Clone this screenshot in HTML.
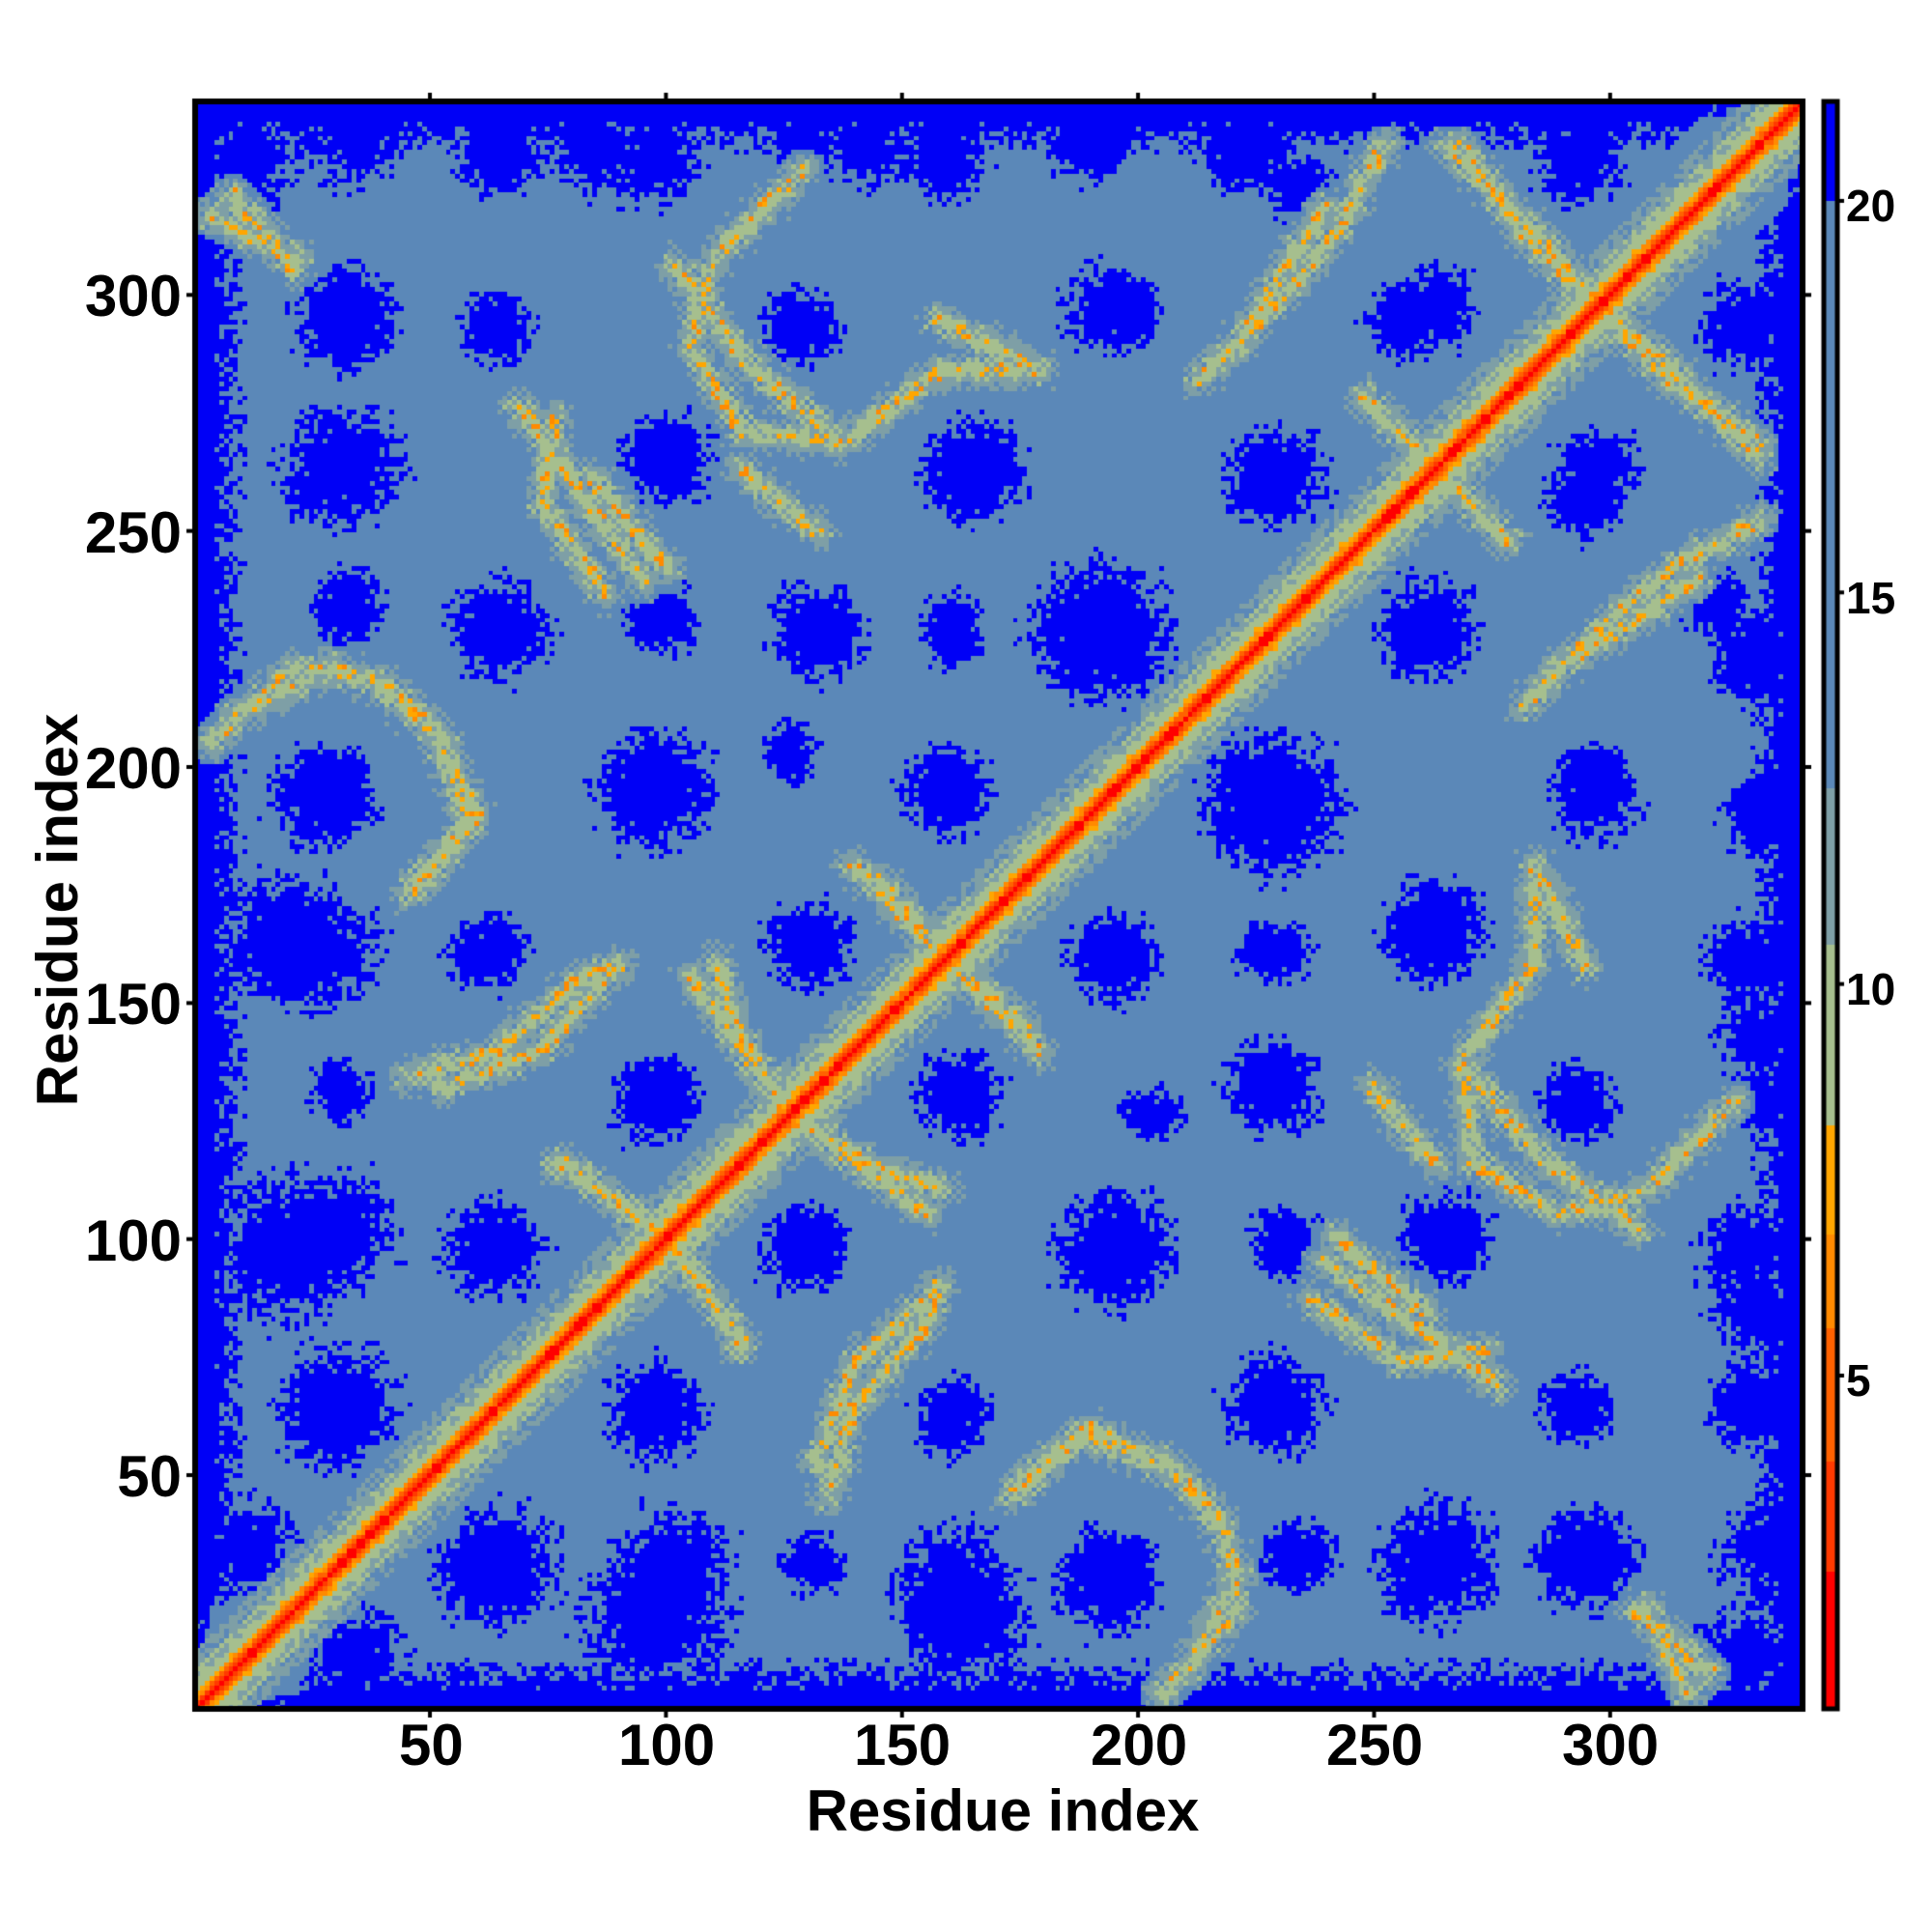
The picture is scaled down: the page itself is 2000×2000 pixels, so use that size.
<!DOCTYPE html>
<html><head><meta charset="utf-8">
<style>
html,body{margin:0;padding:0;background:#fff;}
#wrap{position:relative;width:2000px;height:2000px;overflow:hidden;font-family:"Liberation Sans",Arial,sans-serif;font-weight:bold;color:#000;}
canvas{position:absolute;left:0;top:0;}
.t{position:absolute;font-size:60px;line-height:1;white-space:nowrap;}
.c{position:absolute;font-size:46px;line-height:1;white-space:nowrap;}
</style></head><body>
<div id="wrap">
<canvas id="cv" width="2000" height="2000"></canvas>
<div class="t" style="left:413px;top:1777px;">50</div>
<div class="t" style="left:640px;top:1777px;">100</div>
<div class="t" style="left:884px;top:1777px;">150</div>
<div class="t" style="left:1129px;top:1777px;">200</div>
<div class="t" style="left:1373px;top:1777px;">250</div>
<div class="t" style="left:1617px;top:1777px;">300</div>
<div class="t" style="left:0;width:2000px;text-align:center;top:1845px;font-size:60px;"><span style="position:relative;left:38px;">Residue index</span></div>
<div class="t" style="right:1812px;top:1499px;">50</div>
<div class="t" style="right:1812px;top:1255px;">100</div>
<div class="t" style="right:1812px;top:1010px;">150</div>
<div class="t" style="right:1812px;top:766px;">200</div>
<div class="t" style="right:1812px;top:522px;">250</div>
<div class="t" style="right:1812px;top:277px;">300</div>
<div class="t" style="left:60px;top:942px;font-size:60px;transform:translate(-50%,-50%) rotate(-90deg);">Residue index</div>
<div class="c" style="left:1911px;top:190px;">20</div>
<div class="c" style="left:1911px;top:596px;">15</div>
<div class="c" style="left:1911px;top:1001px;">10</div>
<div class="c" style="left:1911px;top:1406px;">5</div>
</div>
<script>
(function(){
var cv=document.getElementById('cv'),g=cv.getContext('2d');
var N=340,X0=202.8,Y1=1769,S=(1866-202.8)/340;
function rx(px){return (px*1.282-200.7)/4.887;}
function ry(py){return (1771.4-py*1.282)/4.887;}
var blobs=[[285,258,30],[400,262,22],[650,265,25],[910,255,25],[1130,258,25],[1285,100,30],[1405,265,30],[270,380,35],[540,375,30],[790,380,35],[1025,385,30],[1290,380,30],[1050,150,25],[885,510,45],[665,515,30],[770,515,20],[540,505,20],[410,510,20],[280,500,20],[1150,510,35],[1420,530,30],[260,645,35],[530,640,40],[765,640,30],[1025,645,45],[1290,645,30],[640,620,12],[1420,655,25],[230,760,45],[390,770,25],[655,760,25],[900,775,30],[1035,770,20],[1155,755,30],[1410,775,30],[275,885,20],[535,885,25],[775,885,30],[930,900,20],[1030,880,30],[1275,890,25],[1420,890,20],[230,1010,50],[400,1005,25],[650,1010,30],[905,1010,35],[1040,1005,25],[1170,1000,30],[1405,1010,30],[265,1145,35],[530,1140,35],[770,1140,25],[1030,1135,35],[1270,1135,25],[1410,1130,25],[405,1265,40],[545,1265,40],[660,1260,20],[770,1280,40],[900,1270,30],[1050,1255,25],[1160,1260,40],[1280,1260,35],[200,1250,35],[1430,1250,35],[200,130,35],[400,120,30],[480,120,30],[700,120,30],[880,110,30],[1000,120,30]];
blobs=blobs.map(function(b){return [rx(b[0]),ry(b[1]),b[2]*1.282/4.887];});
var lines=[[[545,215],[600,290],[680,360]],[[680,360],[760,300],[840,300]],[[420,330],[470,400],[520,470]],[[170,600],[240,540],[300,550],[350,590],[385,660],[330,720]],[[1070,170],[1030,230],[1000,280]],[[1180,120],[1230,190],[1280,240],[1350,300],[1420,370]],[[1100,320],[1160,380],[1210,430]],[[1420,420],[1350,460],[1300,500],[1230,570]],[[330,870],[400,850],[470,790],[500,780]],[[560,790],[600,850],[640,900],[700,940],[760,960]],[[450,940],[500,970],[540,1000]],[[560,1030],[600,1080]],[[660,1180],[690,1100],[760,1040]],[[820,1200],[870,1160],[940,1180],[980,1220],[1000,1270],[960,1350]],[[1180,860],[1190,940],[1260,980],[1330,960],[1400,890]],[[1240,700],[1280,780]],[[1060,1050],[1130,1100],[1200,1090]],[[1320,1300],[1380,1350]],[[690,700],[750,760],[830,830]],[[170,175],[240,210]],[[1080,1000],[1150,1060]],[[600,380],[660,430]]];
lines=lines.map(function(l){return l.map(function(p){return [rx(p[0]),ry(p[1])];});});
function hash(a,b){var h=(a*374761393+b*668265263)|0;h=(h^(h>>>13))*1274126177|0;h=h^(h>>>16);return ((h>>>0)%10000)/10000;}
function segd(px,py,a,b){var dx=b[0]-a[0],dy=b[1]-a[1],L=dx*dx+dy*dy,t=L?((px-a[0])*dx+(py-a[1])*dy)/L:0;t=Math.max(0,Math.min(1,t));var ex=a[0]+t*dx-px,ey=a[1]+t*dy-py;return Math.sqrt(ex*ex+ey*ey);}
function evalAt(i,j,n,n3){var best=99;for(var k=0;k<lines.length;k++){var l=lines[k];for(var m=0;m<l.length-1;m++){var d=segd(i,j,l[m],l[m+1]);if(d<best)best=d;}}
 var blue=false;for(var k=0;k<blobs.length;k++){var b=blobs[k];var dx=i-b[0],dy=j-b[1];if(Math.sqrt(dx*dx+dy*dy)/b[2]+(n-0.5)*0.8+(n3-0.5)*0.4<1){blue=true;break;}}
 return [best,blue];}
function col(v){if(v>=20)return '#0000f6';if(v>=12.5)return '#5b88b8';if(v>=10.5)return '#7e9fa6';if(v>=8.2)return '#a6bf8e';if(v>=6.8)return '#ffa600';if(v>=5.6)return '#ff8a00';if(v>=3.9)return '#ff6200';if(v>=2.5)return '#ff3a00';return '#ff0000';}
for(var i=1;i<=N;i++){for(var j=i;j<=N;j++){
 var n=hash(i,j),n2=hash(j+7,i+3),n3=hash(i*3+1,j>>2),n4=hash(i>>2,j*5+2);
 var d=j-i;
 var v=16+n;
 var A=evalAt(i,j,n,n3),B=evalAt(j,i,n2,n4);
 var bd=Math.min(A[0],B[0]);
 var chk=((i+j)%2?1:0);
 if(bd<7){var vb=8.6+bd*1.0+(n2-0.5)*3+chk*1.2;if(bd<1.3&&n2>0.86)vb=6+n*1.5;if(vb<v)v=vb;}
 var blue=A[1]||B[1];
 var e=Math.min(i-1,j-1,N-i,N-j);
 if(d>18&&e+(n-0.5)*8<7)blue=true;
 if(d>12&&e<3&&n>0.25)blue=true;
 if(blue&&bd>4.5)v=22;
 var vd;
 if(d==0)vd=1;else if(d==1)vd=2.2+n*1.8;else if(d==2)vd=4.2+n*2;else if(d==3)vd=5.8+n*2.2;else if(d<=5)vd=8+n*1.6+chk*0.8;else if(d<=8)vd=8.6+n*2.5+chk*1.2;else if(d<=12)vd=10.5+n*3;else vd=99;
 if(vd<v)v=vd;
 var c=col(v);g.fillStyle=c;
 var x0=Math.floor(X0+(i-1)*S),x1=Math.floor(X0+i*S),y0=Math.floor(Y1-j*S),y1=Math.floor(Y1-(j-1)*S);
 g.fillRect(x0,y0,x1-x0+1,y1-y0+1);
 if(i!=j){var a0=Math.floor(X0+(j-1)*S),a1=Math.floor(X0+j*S),b0=Math.floor(Y1-i*S),b1=Math.floor(Y1-(i-1)*S);g.fillRect(a0,b0,a1-a0+1,b1-b0+1);}
}}
g.strokeStyle='#000';g.lineWidth=6;g.strokeRect(202,105,1664,1664);
g.lineWidth=4;
var tk=[50,100,150,200,250,300];
tk.forEach(function(r){var x=200.7+r*4.887,y=1771.4-r*4.887;
 g.beginPath();g.moveTo(x,1769);g.lineTo(x,1778);g.stroke();
 g.beginPath();g.moveTo(x,105);g.lineTo(x,96);g.stroke();
 g.beginPath();g.moveTo(202,y);g.lineTo(193,y);g.stroke();
 g.beginPath();g.moveTo(1866,y);g.lineTo(1875,y);g.stroke();});
var cb0=1889,cb1=1901,top=105,bot=1769;
function vy(v){return 1424-(v-5)*81.07;}
for(var y=top;y<bot;y++){var v=5-(y+0.5-1424)/81.07;g.fillStyle=col(v<12.5&&v>=10.5?11:v);g.fillRect(cb0,y,cb1-cb0,1);}
g.lineWidth=5;g.strokeRect(1888,105,14,1664);
[5,10,15,20].forEach(function(v){var y=vy(v);g.lineWidth=4;g.beginPath();g.moveTo(1902,y);g.lineTo(1909,y);g.stroke();});
})();
</script>
</body></html>
